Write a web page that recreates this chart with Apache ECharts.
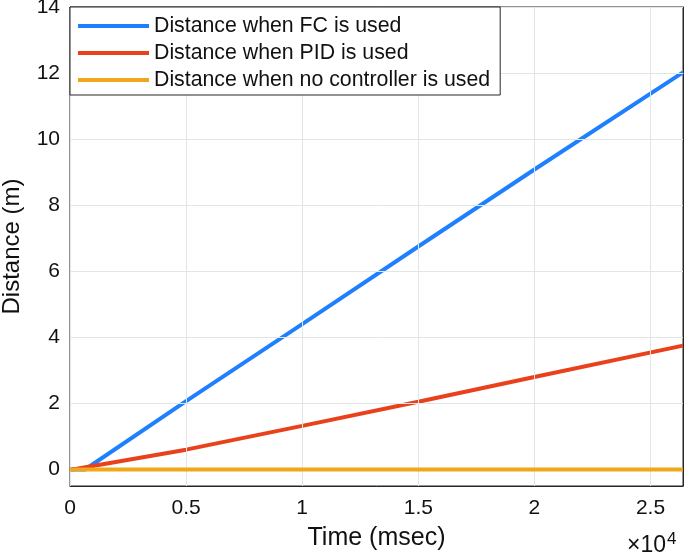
<!DOCTYPE html>
<html>
<head>
<meta charset="utf-8">
<script src="https://cdn.jsdelivr.net/npm/echarts@6/dist/echarts.min.js"></script>
<style>html,body{margin:0;padding:0;background:#fff}#c{width:685px;height:556px}</style>
</head>
<body>
<div id="c"></div>
<script>
// Data (time in msec, distance in m)
var seriesNames = ['Distance when FC is used', 'Distance when PID is used', 'Distance when no controller is used'];
var fcTime = [0, 650, 5000, 10000, 15000, 20000, 26400];
var fcDist = [0, 0, 2.07, 4.4, 6.75, 9.08, 12.02];
var pidTime = [0, 300, 5000, 10000, 15000, 20000, 26400];
var pidDist = [0, 0.02, 0.6, 1.32, 2.05, 2.8, 3.75];
var noTime = [0, 26400];
var noDist = [0, 0];
var xTickValues = [0, 5000, 10000, 15000, 20000, 25000];
var yTickValues = [0, 2, 4, 6, 8, 10, 12, 14];

function pairs(t, d) { return t.map(function (v, i) { return [v, d[i]]; }); }

var chart = echarts.init(document.getElementById('c'));
var font = 'Liberation Sans, Arial, Helvetica, sans-serif';
var gridColor = '#dfe6e6';
var axisColor = '#262626';

function yAxisCfg(pos, main) {
  var c = {
    type: 'value', min: -0.5, max: 14, position: pos,
    axisLine: { show: true, onZero: false, lineStyle: { color: axisColor } },
    axisTick: { show: true, inside: true, length: 6, customValues: yTickValues, lineStyle: { color: axisColor } },
    axisLabel: { show: main, customValues: yTickValues, margin: 10, fontFamily: font, fontSize: 21, color: '#111' },
    splitLine: { show: false }
  };
  if (main) {
    c.name = 'Distance (m)'; c.nameLocation = 'middle'; c.nameGap = 46; c.nameRotate = 90;
    c.nameTextStyle = { fontFamily: font, fontSize: 24, color: '#111' };
  }
  return c;
}
function xAxisCfg(pos, main) {
  var c = {
    type: 'value', min: 0, max: 26400, position: pos,
    axisLine: { show: true, onZero: false, lineStyle: { color: axisColor } },
    axisTick: { show: true, inside: true, length: 6, customValues: xTickValues, lineStyle: { color: axisColor } },
    axisLabel: { show: main, customValues: xTickValues, margin: 12, fontFamily: font, fontSize: 21, color: '#111',
      formatter: function (v) { return String(v / 10000); } },
    splitLine: { show: false }
  };
  if (main) {
    c.name = 'Time (msec)'; c.nameLocation = 'middle'; c.nameGap = 40;
    c.nameTextStyle = { fontFamily: font, fontSize: 25, color: '#111' };
  }
  return c;
}

// grid lines drawn through the axes' scales as markLines
var gridLines = yTickValues.map(function (v) { return { yAxis: v }; })
  .concat(xTickValues.map(function (v) { return { xAxis: v }; }));

chart.setOption({
  animation: false,
  backgroundColor: '#ffffff',
  grid: { left: 70, right: 2, top: 7, bottom: 70, show: true, borderColor: axisColor, borderWidth: 1,
    containLabel: false, outerBoundsMode: 'none' },
  legend: {
    orient: 'vertical', left: 70, top: 7, z: 100, zlevel: 1,
    backgroundColor: '#ffffff', borderColor: axisColor, borderWidth: 1,
    padding: [8, 10, 4, 8], itemGap: 5,
    itemWidth: 71, itemHeight: 4, icon: 'rect',
    textStyle: { fontFamily: font, fontSize: 21.3, lineHeight: 22, color: '#111' },
    data: seriesNames
  },
  xAxis: [xAxisCfg('bottom', true), xAxisCfg('top', false)],
  yAxis: [yAxisCfg('left', true), yAxisCfg('right', false)],
  graphic: [{
    type: 'text', left: 627, top: 531,
    style: { text: '×10{s|4}', font: '23px ' + font, fill: '#111',
      rich: { s: { fontSize: 17, verticalAlign: 'top', padding: [0, 0, 12, 1], fontFamily: font, fill: '#111' } } }
  }],
  series: [{
    name: 'grid', type: 'line', data: [], silent: true,
    markLine: { silent: true, symbol: ['none', 'none'], label: { show: false },
      lineStyle: { color: gridColor, width: 1, type: 'solid' }, data: gridLines, animation: false },
    z: 1
  }, {
    name: seriesNames[0], type: 'line', data: pairs(fcTime, fcDist), showSymbol: false,
    lineStyle: { width: 4, color: '#1f80ff' }, itemStyle: { color: '#1f80ff' }, z: 3
  }, {
    name: seriesNames[1], type: 'line', data: pairs(pidTime, pidDist), showSymbol: false,
    lineStyle: { width: 4, color: '#e8411b' }, itemStyle: { color: '#e8411b' }, z: 4
  }, {
    name: seriesNames[2], type: 'line', data: pairs(noTime, noDist), showSymbol: false,
    lineStyle: { width: 4, color: '#f0a81a' }, itemStyle: { color: '#f0a81a' }, z: 5
  }]
});
</script>
</body>
</html>
